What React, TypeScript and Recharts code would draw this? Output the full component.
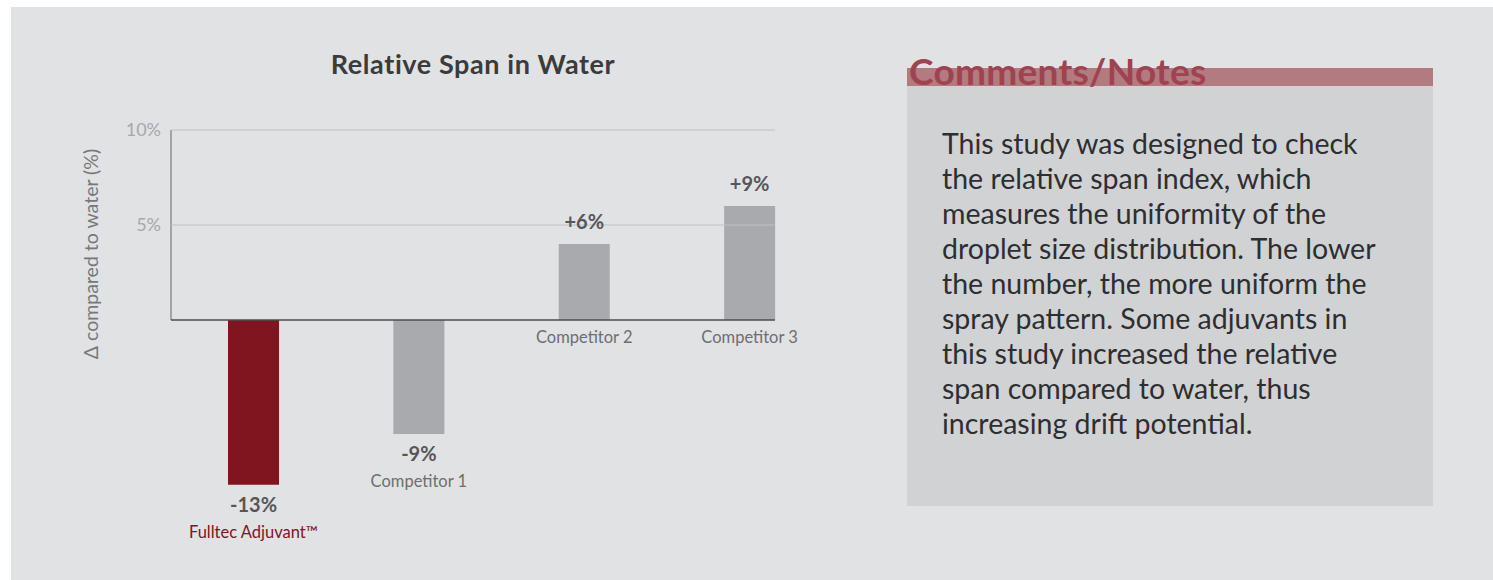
import { BarChart, Bar, XAxis, YAxis, ReferenceLine, ReferenceArea, LabelList, Cell } from "recharts";

const categories = ["Fulltec Adjuvant™", "Competitor 1", "Competitor 2", "Competitor 3"];
const deltas = [-13, -9, 6, 9];
// the printed axis does not agree with the bar labels: "10%" sits where 15 would be
const yTicks = [7.5, 15];
const yTickLabels = ["5%", "10%"];

const noteLines = [
  "This study was designed to check",
  "the relative span index, which",
  "measures the uniformity of the",
  "droplet size distribution. The lower",
  "the number, the more uniform the",
  "spray pattern. Some adjuvants in",
  "this study increased the relative",
  "span compared to water, thus",
  "increasing drift potential.",
];

const data = categories.map((name, i) => ({ name, delta: deltas[i] }));

const FONT = "Lato, 'Open Sans', sans-serif";
const RED = "#80141f";
const GREY = "#a9aaad";

const BarLabel = (props: any) => {
  const vb = props.viewBox ?? props;
  const { x, y, width, height } = vb;
  const { value, index } = props;
  const cx = x + width / 2;
  const top = Math.min(y, y + height);
  const bottom = Math.max(y, y + height);
  const text = value > 0 ? `+${value}%` : `${value}%`;
  const nameColor = index === 0 ? RED : "#6d6e71";
  const valueY = value >= 0 ? top - 23 : bottom + 19;
  const nameY = value >= 0 ? bottom + 17 : bottom + 47;
  return (
    <g fontFamily={FONT}>
      <text x={cx} y={valueY} textAnchor="middle" dominantBaseline="central" fontSize={20} fontWeight={700} fill="#555659">
        {text}
      </text>
      <text x={cx} y={nameY} textAnchor="middle" dominantBaseline="central" fontSize={16.5} fill={nameColor}>
        {categories[index]}
      </text>
    </g>
  );
};

const YTitle = () => (
  <text
    transform="translate(79,247) rotate(-90)"
    textAnchor="middle"
    dominantBaseline="central"
    fontFamily={FONT}
    fontSize={19.5}
    fill="#77787b"
  >
    Δ compared to water (%)
  </text>
);

const AxisStub = (p: any) => (
  <line x1={p.x} x2={p.x} y1={p.y} y2={p.y + p.height} stroke="#8e8f92" strokeWidth={1.5} />
);

const App = () => {
  return (
    <div style={{ position: "absolute", left: 11, top: 7, width: 1482, height: 573, background: "#e1e2e4", fontFamily: FONT }}>
      <div style={{ position: "absolute", left: 0, top: 42, width: 924, textAlign: "center", fontSize: 27, lineHeight: "30px", fontWeight: 700, letterSpacing: 0.6, color: "#3b3b3d" }}>
        Relative Span in Water
      </div>
      <div style={{ position: "absolute", left: 0, top: 0 }}>
        <BarChart width={880} height={573} data={data} margin={{ top: 123, right: 116, bottom: 70, left: 100 }}>
          <XAxis dataKey="name" hide padding={{ left: 0, right: -57.5 }} />
          <YAxis
            domain={[-15, 15]}
            ticks={yTicks}
            width={60}
            axisLine={false}
            tickLine={false}
            tickSize={0}
            tickMargin={10}
            tickFormatter={(v: number) => yTickLabels[yTicks.indexOf(v)]}
            tick={{ fontSize: 18, fill: "#a7a8ab", fontFamily: FONT }}
            label={<YTitle />}
          />
          {yTicks.map((t) => (
            <ReferenceLine key={t} y={t} stroke="#bfc0c2" />
          ))}
          <ReferenceArea y1={0} y2={15} fill="none" shape={AxisStub} />
          <Bar dataKey="delta" barSize={51} isAnimationActive={false}>
            {data.map((d, i) => (
              <Cell key={d.name} fill={i === 0 ? RED : GREY} />
            ))}
            <LabelList dataKey="delta" content={BarLabel} />
          </Bar>
          <ReferenceLine y={0} stroke="#4d4d4f" strokeWidth={1.5} />
        </BarChart>
      </div>
      <div style={{ position: "absolute", left: 896, top: 61, width: 526, height: 438, background: "#d1d2d4" }}>
        <div style={{ position: "absolute", left: 0, top: 0, width: 526, height: 18, background: "#b17b7f" }} />
        <div style={{ position: "absolute", left: 2, top: -14, fontSize: 37, lineHeight: "34px", fontWeight: 700, letterSpacing: 0.3, color: "#9f4350", whiteSpace: "nowrap" }}>
          Comments/Notes
        </div>
        <div style={{ position: "absolute", left: 35, top: 58, fontSize: 28.5, lineHeight: "35px", color: "#2e2e30", whiteSpace: "nowrap" }}>
          {noteLines.map((line) => (
            <div key={line}>{line}</div>
          ))}
        </div>
      </div>
    </div>
  );
};

export default App;
